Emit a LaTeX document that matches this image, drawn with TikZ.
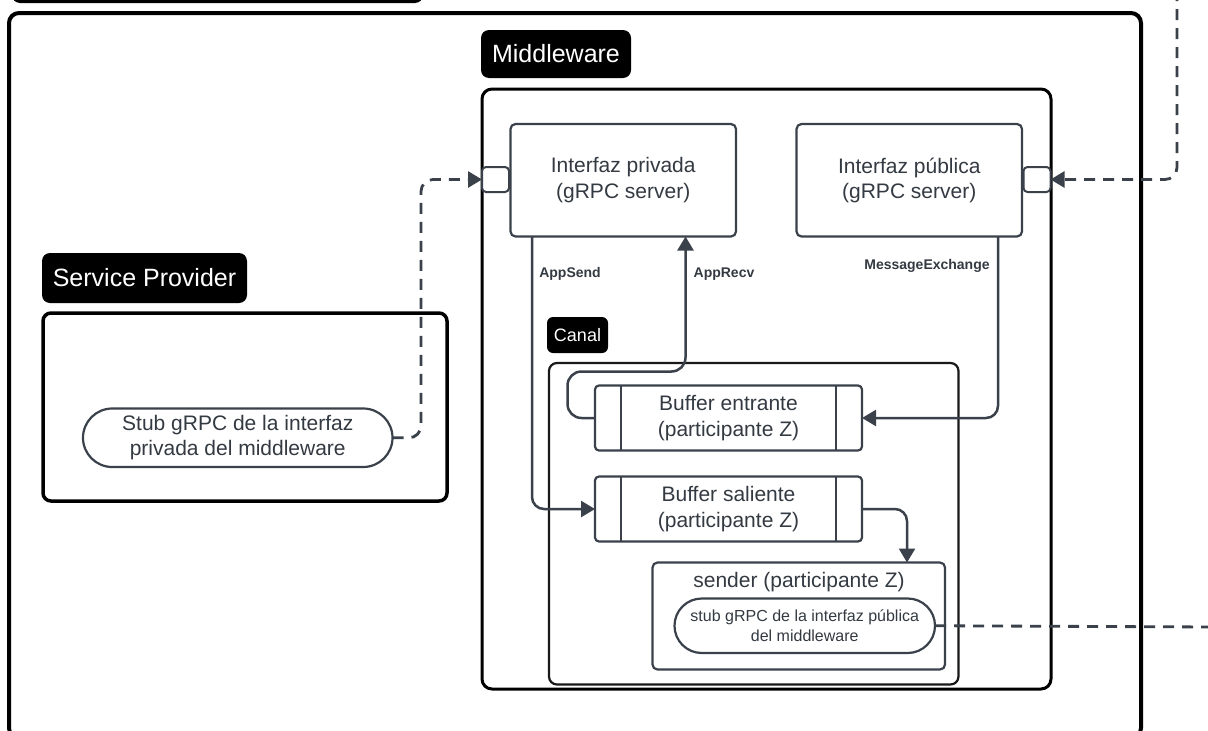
\documentclass[tikz,border=0pt]{standalone}
\usepackage{fontspec}
\setmainfont{Liberation Sans}
\usetikzlibrary{arrows.meta,shapes.misc}
\definecolor{ink}{HTML}{3A414B}
\definecolor{txt}{HTML}{333A42}
\newcommand\bodytxt{\fontsize{21}{25.5}\selectfont}
\newcommand\tagtxt{\fontsize{25}{30}\selectfont}

\begin{document}
\begin{tikzpicture}[x=1pt,y=-1pt,
  every node/.style={inner sep=0pt, outer sep=0pt},
  tag/.style={fill=black, text=white, rounded corners=8pt, align=center},
  frame/.style={draw=black, rounded corners=10pt},
  block/.style={draw=ink, line width=2.2pt, rounded corners=5pt, fill=white,
    text=txt, align=center, font=\bodytxt},
  port/.style={draw=ink, line width=2pt, rounded corners=4pt, fill=white,
    minimum width=27pt, minimum height=25pt},
  stadium/.style={rounded rectangle, draw=ink, line width=2.2pt, fill=white,
    text=txt, align=center},
  flow/.style={draw=ink, line width=2.5pt, rounded corners=12pt,
    -{Triangle[length=14pt,width=16pt]}},
  link/.style={flow, line width=2.8pt, dash pattern=on 11pt off 8pt},
  rpc/.style={text=txt, font=\bfseries\fontsize{14}{16}\selectfont, anchor=base},
]
\useasboundingbox (0,0) rectangle (1208,731);

% header bar running off the top edge
\node[tag, minimum width=411pt, minimum height=40pt] (topbar) at (217.5,-17) {};

% outer frame
\node[frame, line width=4pt, minimum width=1132pt, minimum height=725pt] (outer) at (575,375.5) {};

% Service Provider
\node[tag, font=\tagtxt, minimum width=205pt, minimum height=50pt] (sptag) at (144.5,278) {Service Provider};
\node[frame, line width=3.5pt, rounded corners=8pt, minimum width=404pt, minimum height=188pt] (spbox) at (245,407) {};
\node[stadium, font=\bodytxt, minimum width=309.5pt, minimum height=58.5pt] (stub1) at (237.75,437.75)
  {Stub gRPC de la interfaz\\privada del middleware};

% Middleware
\node[tag, font=\tagtxt, minimum width=150pt, minimum height=48pt] (mwtag) at (556,54) {Middleware};
\node[frame, line width=3pt, minimum width=569pt, minimum height=600pt] (mwbox) at (766.5,389) {};

% Canal
\node[tag, font=\fontsize{18}{21}\selectfont, rounded corners=6pt, minimum width=61pt, minimum height=36pt] (canaltag) at (577.5,335) {Canal};
\node[draw=black!90, line width=2.2pt, rounded corners=8pt, minimum width=409.5pt, minimum height=321.5pt] (canal) at (753.75,523.75) {};

% gRPC servers and their ports
\node[block, minimum width=225.5pt, minimum height=112.5pt] (ipriv) at (623.25,180.25) {Interfaz privada\\(gRPC server)};
\node[block, minimum width=225.5pt, minimum height=112.5pt] (ipub) at (909.25,180.25) {Interfaz pública\\(gRPC server)};
\node[port] (pport) at (495.5,179.5) {};
\node[port] (qport) at (1037,179.5) {};

% buffers
\node[block, rounded corners=4pt, minimum width=267pt, minimum height=65pt] (bin) at (728.5,418) {Buffer entrante\\(participante Z)};
\node[block, rounded corners=4pt, minimum width=267pt, minimum height=65pt] (bout) at (728.5,509) {Buffer saliente\\(participante Z)};
\foreach \b in {bin,bout}{
  \draw[ink, line width=2.2pt] ([xshift=26pt]\b.north west) -- ([xshift=26pt]\b.south west);
  \draw[ink, line width=2.2pt] ([xshift=-26pt]\b.north east) -- ([xshift=-26pt]\b.south east);
}

% sender
\node[draw=ink, line width=2.2pt, rounded corners=5pt, minimum width=292.5pt, minimum height=107pt] (sender) at (798.75,616) {};
\node[text=txt, font=\bodytxt, anchor=base] (sendertitle) at (799,587) {sender (participante Z)};
\node[stadium, font=\fontsize{16}{20}\selectfont, minimum width=260.5pt, minimum height=54.5pt] (stub2) at (804.75,625.75)
  {stub gRPC de la interfaz pública\\del middleware};

% method labels
\node[rpc] (lsend) at (570,277) {AppSend};
\node[rpc] (lrecv) at (724,277) {AppRecv};
\node[rpc] (lmsg) at (927,269) {MessageExchange};

% free ends of the remote links
\coordinate (offN) at (1177,-10);
\coordinate (offE) at (1215,627);

% internal flows
\draw[flow] ([xshift=21.5pt]ipriv.south west) |- (bout.west);
\draw[flow, rounded corners=14pt] (bin.west) -| (567.5,371.5) -| ([xshift=62.25pt]ipriv.south);
\draw[flow] ([xshift=88.75pt]ipub.south) |- (bin.east);
\draw[flow] (bout.east) -| ([xshift=108.25pt]sender.north);

% remote gRPC links
\draw[link] (stub1.east) -| ([xshift=-61pt]pport.west) -- (pport.west);
\draw[link] (offN) |- (qport.east);
\draw[link, -] (stub2.east) -- (offE);
\end{tikzpicture}
\end{document}
